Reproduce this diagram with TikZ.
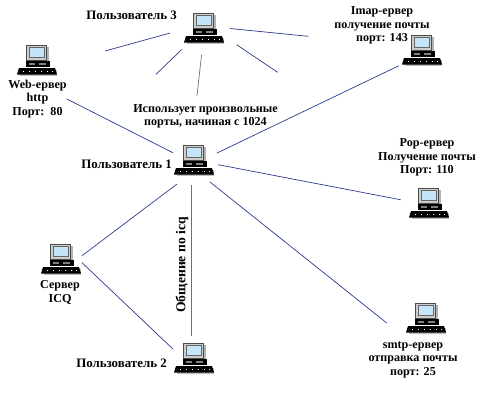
\documentclass[tikz,border=0pt]{standalone}
\usepackage{fontspec}
\setmainfont{Liberation Serif}
\usetikzlibrary{positioning}
\definecolor{linkblue}{HTML}{2B3A8C}
\definecolor{linkgray}{HTML}{6A7080}
\definecolor{screenblue}{HTML}{C4E4F8}
\newcommand{\computericon}{%
  \begin{scope}[shift={(path picture bounding box.center)}]
    \fill[black!30] (-9,-13) rectangle (12,3);
    \fill[black!25] (-17,10) rectangle (20,15.5);
    \fill[black!70] (-11,-15.5) rectangle (10,1);
    \fill[black!20] (-10,-14.5) rectangle (9,0);
    \fill[screenblue] (-7.5,-12.5) rectangle (7.5,-2.5);
    \draw[black!60, line width=0.5pt] (-7.5,-12.5) rectangle (7.5,-2.5);
    \fill[black] (-11.5,1) rectangle (12.5,7);
    \fill[black!50] (-8,3) rectangle (-2,4.5);
    \fill[black!50] (2,3) rectangle (9,4.5);
    \fill[black] (-18,8) -- (18,8) -- (20,14.5) -- (-20,14.5) -- cycle;
    \foreach \dotx in {-14,-8,-2,4,10,15}
      \fill[white] (\dotx,11) rectangle +(1.2,1.2);
  \end{scope}}
\begin{document}
\begin{tikzpicture}[x=1pt, y=-1pt,
    comp/.style={minimum width=40pt, minimum height=31pt, inner sep=0pt, outer xsep=1pt, outer ysep=6.5pt, path picture={\computericon}},
    lbl/.style={align=center, inner sep=0pt, font=\fontsize{12.1}{13.6}\selectfont\bfseries},
    ulbl/.style={lbl, font=\fontsize{12.9}{13.6}\selectfont\bfseries},
    link/.style={draw=linkblue, line width=0.7pt},
    glink/.style={draw=linkgray, line width=0.7pt}]
  \useasboundingbox (0,0) rectangle (500,400);

  \node[comp] (u3) at (204,28) {};
  \node[comp] (web) at (37,60) {};
  \node[comp] (u1) at (194,160) {};
  \node[comp] (imap) at (422,50) {};
  \node[comp] (pop) at (429,203) {};
  \node[comp] (smtp) at (426,318) {};
  \node[comp] (icq) at (61,259) {};
  \node[comp] (u2) at (194,358) {};

  \node[ulbl] (u3lbl) at (131.5,15) {Пользователь 3};
  \node[lbl] (weblbl) at (37.5,99) {Web-ервер\\http\\Порт:~~80};
  \node[lbl] (portlbl) at (205.5,116.5) {Использует произвольные\\порты, начиная с 1024};
  \node[ulbl] (u1lbl) at (126.5,164) {Пользователь 1};
  \node[lbl] (imaplbl) at (382,25.5) {Imap-ервер\\получение почты\\порт: 143};
  \node[lbl] (poplbl) at (427,157.5) {Pop-ервер\\Получение почты\\Порт: 110};
  \node[lbl] (smtplbl) at (413,359.5) {smtp-ервер\\отправка почты\\порт: 25};
  \node[lbl] (icqlbl) at (60,292.5) {Сервер\\ICQ};
  \node[ulbl] (u2lbl) at (121.5,363) {Пользователь 2};
  \node[lbl, font=\fontsize{13.6}{15}\selectfont\bfseries, rotate=90] (icqtalk) at (182,265) {Общение по icq};

  \coordinate (a) at (105,51);
  \coordinate (b) at (156,74.3);
  \coordinate (c) at (197,95.7);
  \coordinate (d) at (277.7,72.3);
  \coordinate (e) at (308.3,36.3);

  \draw[link, shorten <=13.4pt] (u3.184) -- (a);
  \draw[link, shorten <=1.9pt] (u3.224.6) -- (b);
  \draw[glink, shorten <=5pt] (u3.265.3) -- (c);
  \draw[link, shorten <=14pt] (u3.-23.7) -- (d);
  \draw[link, shorten <=5pt] (u3.0.5) -- (e);

  \draw[link] (weblbl.east) -- (u1.161.6);
  \draw[link, shorten <=2.2pt, shorten >=2.2pt] (u1.16) -- (imap.215.5);
  \draw[link, shorten <=3pt, shorten >=7.4pt] (u1.-11.8) -- (pop.175.6);
  \draw[link, shorten >=23.4pt] (u1.-54) -- (smtp.223);
  \draw[link, shorten <=3.3pt] (u1.237) -- (icq.9.5);
  \draw[link] (icq.-10.8) -- (u2.157);
  \draw[glink, shorten <=3pt] (u1.263) -- (u2.97);
\end{tikzpicture}
\end{document}
